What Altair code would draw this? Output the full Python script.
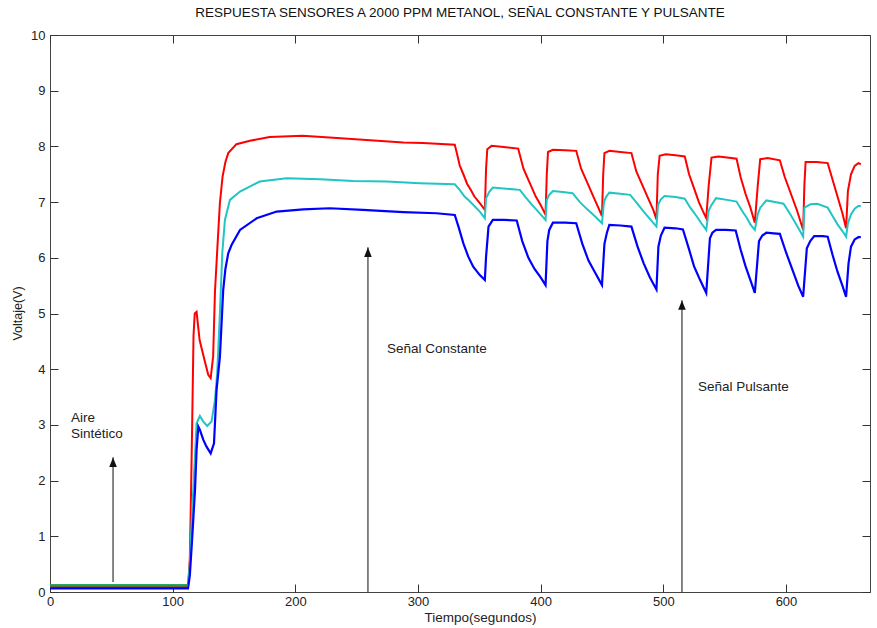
import altair as alt
import pandas as pd

# ---------------- data ----------------
t_red = [0, 112.5, 114, 115, 116, 117, 118, 119.5, 122, 126, 129, 131, 133, 134.5, 136.5, 138.5, 140.7, 143, 145.3,
         152, 163, 179, 206, 234, 261, 288, 304, 330,
         332, 334, 337, 340, 343, 346, 350.4, 354.5,
         355.5, 356.5, 360, 370, 381.7, 386, 391, 396, 400, 404,
         405, 406, 410, 420, 429, 433, 438, 443, 447, 450,
         451, 452, 456, 465, 474, 478, 483, 488, 492, 494.4,
         495.5, 497, 502, 510, 517.5, 521, 525, 529, 532, 535,
         537, 539.3, 545, 552, 559.7, 563, 567, 571, 574.6,
         577, 579, 585, 595, 599, 604, 609, 614,
         615, 616, 625, 634, 638, 642, 646, 649,
         650.5, 653, 656, 659, 661]
v_red = [0.09, 0.09, 0.6, 1.8, 3.15, 4.6, 5.0, 5.03, 4.52, 4.16, 3.9, 3.84, 4.23, 5.4, 6.2, 6.98, 7.46, 7.72, 7.88,
         8.04, 8.1, 8.17, 8.19, 8.15, 8.11, 8.07, 8.06, 8.03,
         7.85, 7.66, 7.5, 7.33, 7.22, 7.1, 6.98, 6.86,
         7.6, 7.95, 8.01, 7.99, 7.96, 7.6, 7.35, 7.1, 6.95, 6.77,
         7.5, 7.9, 7.94, 7.93, 7.92, 7.6, 7.35, 7.1, 6.9, 6.75,
         7.5, 7.88, 7.92, 7.9, 7.88, 7.55, 7.3, 7.05, 6.85, 6.69,
         7.5, 7.83, 7.86, 7.84, 7.82, 7.5, 7.25, 7.0, 6.85, 6.71,
         7.3, 7.8, 7.82, 7.8, 7.78, 7.45, 7.15, 6.9, 6.63,
         7.3, 7.77, 7.79, 7.75, 7.45, 7.15, 6.85, 6.5,
         7.3, 7.72, 7.72, 7.7, 7.4, 7.1, 6.8, 6.53,
         7.2, 7.5, 7.65, 7.7, 7.68]

t_cyan = [0, 112.5, 114, 115.4, 118.2, 119.5, 122.2, 125, 128.2, 131.7, 134.5, 136.3, 138.5, 140.5, 142.6, 146.7,
          154.9, 171, 192.9, 220, 247, 274.5, 301.5, 330,
          334, 338, 342, 346, 350.4, 354.5,
          355.5, 358, 361, 372, 383, 388, 393, 398, 404,
          405, 407, 410, 418, 426, 432, 438, 444, 450,
          451.6, 453.5, 456, 465, 473, 479, 484, 489, 494.4,
          495.7, 498, 501, 510, 517.5, 522, 527, 531, 535,
          537, 539.3, 543, 552, 559.7, 564, 568, 571, 574.6,
          577, 579, 584, 591, 598, 603, 607, 611, 614,
          615, 620, 625.5, 634, 638, 642, 646, 649,
          650.5, 653, 656, 659, 661]
v_cyan = [0.12, 0.12, 0.5, 1.23, 2.43, 3.03, 3.16, 3.06, 2.98, 3.06, 3.45, 3.93, 5.0, 6.1, 6.68, 7.04,
          7.19, 7.37, 7.43, 7.41, 7.38, 7.37, 7.34, 7.32,
          7.22, 7.1, 7.02, 6.93, 6.83, 6.71,
          7.07, 7.18, 7.26, 7.24, 7.22, 7.08, 6.95, 6.83, 6.68,
          7.04, 7.13, 7.2, 7.18, 7.16, 7.0, 6.87, 6.75, 6.62,
          7.0, 7.1, 7.17, 7.15, 7.13, 6.97, 6.83, 6.7, 6.56,
          6.95, 7.05, 7.11, 7.09, 7.06, 6.9, 6.75, 6.62, 6.5,
          6.85, 6.95, 7.07, 7.04, 7.01, 6.85, 6.72, 6.6, 6.5,
          6.78, 6.9, 7.03, 7.0, 6.97, 6.8, 6.65, 6.5, 6.38,
          6.9, 6.96, 6.97, 6.9, 6.75, 6.6, 6.48, 6.38,
          6.62, 6.78, 6.88, 6.93, 6.93]

t_blue = [0, 112.5, 114, 116, 118.2, 119.5, 120.9, 122.2, 125, 127.6, 131, 133.7, 135.8, 138.5, 141.2, 143, 145.3,
          148, 154.9, 168.5, 184.8, 206.4, 228, 255, 288, 315, 330,
          333, 337, 341, 345, 350.4, 354.5,
          355.5, 357.5, 361, 370, 380.5, 385, 390, 395, 400, 404,
          405.5, 407, 410, 420, 429, 434, 439, 444, 450,
          452, 454, 456, 465, 474, 479, 484, 489, 494.4,
          496, 498, 501, 510, 516, 521, 525, 530, 535,
          538, 540, 543, 551, 559, 563, 567, 571, 574.6,
          578, 580.7, 584, 590, 595, 600, 605, 610, 614,
          617, 619.8, 623, 630, 634, 638, 642, 646, 649,
          651, 653, 656, 659, 661]
v_blue = [0.065, 0.065, 0.3, 1.0, 1.83, 2.55, 2.97, 2.91, 2.73, 2.61, 2.49, 2.67, 3.63, 4.22, 5.42, 5.8, 6.08,
          6.23, 6.5, 6.71, 6.83, 6.87, 6.89, 6.86, 6.82, 6.8, 6.77,
          6.56, 6.26, 6.02, 5.84, 5.69, 5.6,
          6.02, 6.56, 6.68, 6.68, 6.67, 6.3, 6.0, 5.8, 5.65, 5.51,
          6.3, 6.5, 6.63, 6.63, 6.62, 6.25, 5.95, 5.75, 5.51,
          6.25, 6.45, 6.59, 6.58, 6.56, 6.2, 5.9, 5.65, 5.43,
          6.2, 6.4, 6.54, 6.53, 6.51, 6.15, 5.85, 5.6, 5.37,
          6.35, 6.45, 6.5, 6.5, 6.49, 6.15, 5.85, 5.6, 5.37,
          6.3, 6.4, 6.45, 6.44, 6.43, 6.1, 5.8, 5.5, 5.3,
          6.17, 6.3, 6.39, 6.39, 6.38, 6.05, 5.75, 5.5, 5.3,
          5.9, 6.2, 6.33, 6.37, 6.37]

t_green = [0, 112.5]
v_green = [0.12, 0.12]

note_labels = ["Aire", "Sintético", "Señal Constante", "Señal Pulsante"]
note_t = [17.1, 17.1, 274.7, 528.3]
note_v = [3.12, 2.84, 4.36, 3.68]

arrow_t = [51.4, 259.2, 515.2]
arrow_from = [0.18, 0.0, 0.0]
arrow_to = [2.42, 6.19, 5.24]

x_ticks = [0, 100, 200, 300, 400, 500, 600]
y_ticks = [0, 1, 2, 3, 4, 5, 6, 7, 8, 9, 10]

TITLE = "RESPUESTA SENSORES A 2000 PPM METANOL, SEÑAL CONSTANTE Y PULSANTE"

# ---------------- chart ----------------
FONT = "Liberation Sans"
AXC = "#333333"
TXT = "#222222"
XMAX = 668.5

xs = alt.Scale(domain=[0, XMAX], nice=False, zero=False)
ys = alt.Scale(domain=[0, 10], nice=False, zero=False)

common_axis = dict(grid=False, domain=False, tickColor=AXC, tickWidth=1,
                   tickSize={"expr": "-8"}, labelFlush=False, labelOverlap=False)

x_bottom = alt.Axis(orient="bottom", values=x_ticks, labelPadding=11, labelFontSize=13,
                    labelFont=FONT, labelColor=TXT, title="Tiempo(segundos)", titleFont=FONT,
                    titleFontSize=13.5, titleFontWeight="normal", titleColor=TXT, titleX=430,
                    titleY=25, titleBaseline="middle", titleAlign="center", **common_axis)
y_left = alt.Axis(orient="left", values=y_ticks, labelPadding=13, labelFontSize=13,
                  labelFont=FONT, labelColor=TXT, title="Voltaje(V)", titleFont=FONT,
                  titleFontSize=12.5, titleFontWeight="normal", titleColor=TXT, titleX=-33,
                  titleY=278, titleBaseline="middle", titleAlign="center", **common_axis)
x_top = alt.Axis(orient="top", values=x_ticks, labels=False, title=None, **common_axis)
y_right = alt.Axis(orient="right", values=y_ticks, labels=False, title=None, **common_axis)


def frame(t, v):
    return pd.DataFrame({"t": t, "v": v})


red = alt.Chart(frame(t_red, v_red)).mark_line(color="#ff0000", strokeWidth=2).encode(
    x=alt.X("t:Q", scale=xs, axis=x_bottom), y=alt.Y("v:Q", scale=ys, axis=y_left))
cyan = alt.Chart(frame(t_cyan, v_cyan)).mark_line(color="#22c4c4", strokeWidth=2).encode(
    x=alt.X("t:Q", scale=xs, axis=x_top), y=alt.Y("v:Q", scale=ys, axis=y_right))
blue = alt.Chart(frame(t_blue, v_blue)).mark_line(color="#0000ff", strokeWidth=2.2).encode(
    x=alt.X("t:Q", scale=xs, axis=None), y=alt.Y("v:Q", scale=ys, axis=None))
green = alt.Chart(frame(t_green, v_green)).mark_line(color="#1f9a3c", strokeWidth=2.2).encode(
    x=alt.X("t:Q", scale=xs, axis=None), y=alt.Y("v:Q", scale=ys, axis=None))

notes_df = pd.DataFrame({"t": note_t, "v": note_v, "label": note_labels})
notes = alt.Chart(notes_df).mark_text(align="left", baseline="middle", fontSize=13.5, font=FONT,
                                      color=TXT).encode(
    x=alt.X("t:Q", scale=xs, axis=None), y=alt.Y("v:Q", scale=ys, axis=None), text="label:N")

arrows_df = pd.DataFrame({"t": arrow_t, "v0": arrow_from, "v1": arrow_to})
shafts = alt.Chart(arrows_df).mark_rule(color="#444444", strokeWidth=1.3).encode(
    x=alt.X("t:Q", scale=xs, axis=None), y=alt.Y("v0:Q", scale=ys, axis=None), y2="v1:Q")
heads = alt.Chart(arrows_df).mark_point(shape="M-0.8,1L0,-1L0.8,1Z", filled=True, size=90,
                                        color="#111111", opacity=1, yOffset=5).encode(
    x=alt.X("t:Q", scale=xs, axis=None), y=alt.Y("v1:Q", scale=ys, axis=None))

chart = alt.layer(red, cyan, blue, green, shafts, heads, notes).resolve_axis(
    x="independent", y="independent"
).properties(
    width=820, height=557,
    padding={"left": 50, "top": 35, "right": 7, "bottom": 36},
    autosize=alt.AutoSizeParams(type="none"),
    title=alt.TitleParams(TITLE, fontSize=13.5, font=FONT, fontWeight="normal", color="#111111",
                          anchor="middle", frame="group", offset=10),
    background="white",
).configure_view(stroke="#444444", strokeWidth=1)

chart.save("out.html", embed_options={"renderer": "svg", "actions": False})
